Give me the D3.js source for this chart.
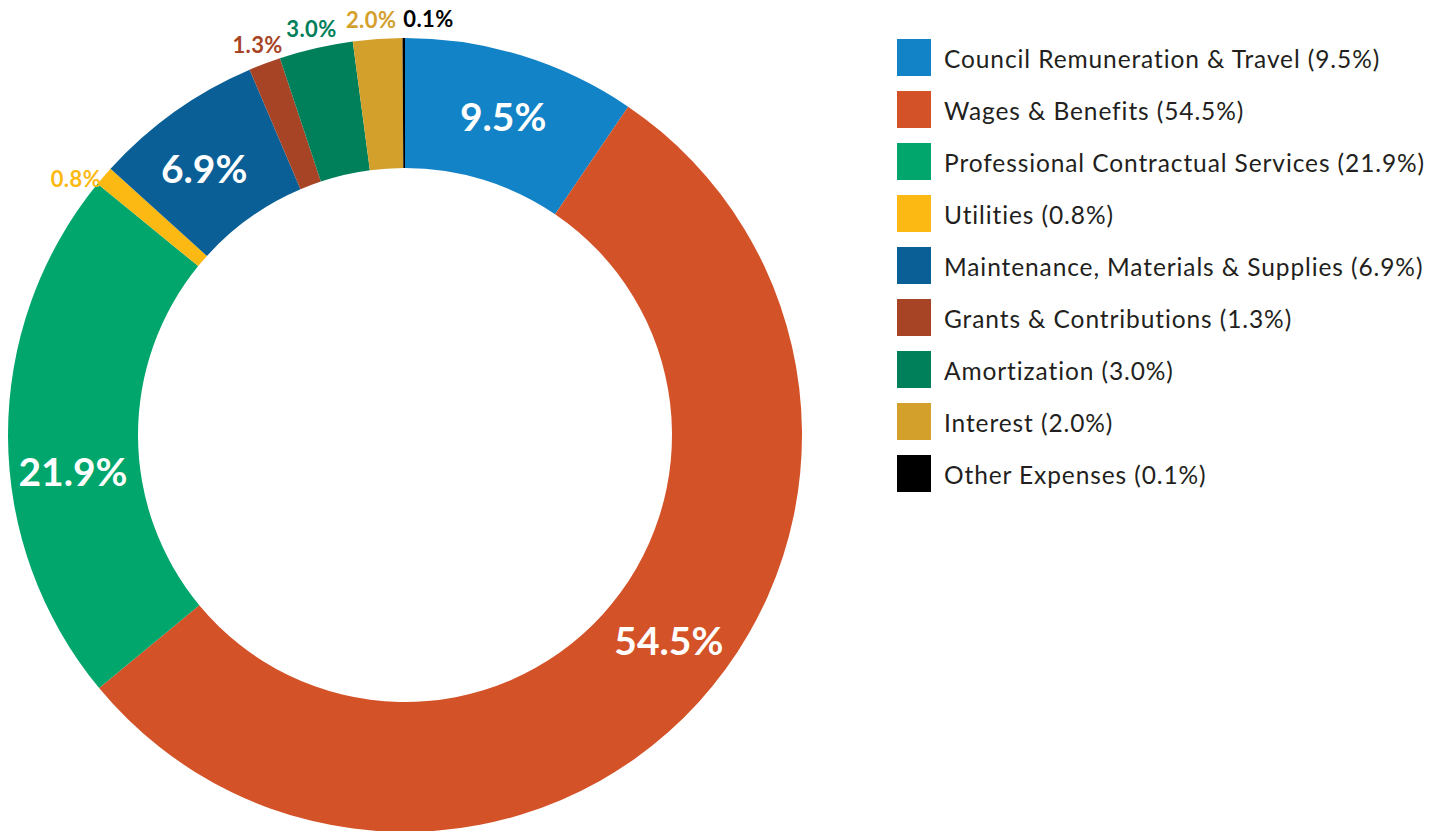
<!DOCTYPE html>
<html>
<head>
<meta charset="utf-8">
<script src="https://cdn.jsdelivr.net/npm/d3@7"></script>
<style>
  html, body { margin: 0; padding: 0; background: #ffffff; }
  svg { display: block; font-family: Lato, "Open Sans", sans-serif; }
</style>
</head>
<body>
<svg id="chart" width="1450" height="831"></svg>
<script>
// Expense categories and their share of the total (%)
const categories = [
  "Council Remuneration & Travel",
  "Wages & Benefits",
  "Professional Contractual Services",
  "Utilities",
  "Maintenance, Materials & Supplies",
  "Grants & Contributions",
  "Amortization",
  "Interest",
  "Other Expenses"
];
const shares = [9.5, 54.5, 21.9, 0.8, 6.9, 1.3, 3.0, 2.0, 0.1];
const colours = ["#1283c6", "#d45227", "#00a66b", "#fdb913", "#0a6096",
                 "#a84426", "#00805a", "#d4a02c", "#000000"];

// Slices large enough to carry their label inside the ring
const insideMin = 5;

const svg = d3.select("#chart");
const cx = 405, cy = 435, outerR = 397, innerR = 267;

const data = categories.map((c, i) => ({ name: c, value: shares[i], colour: colours[i] }));

const pie = d3.pie().sort(null).value(d => d.value);
const arcs = pie(data);
const arc = d3.arc().innerRadius(innerR).outerRadius(outerR);

const g = svg.append("g").attr("transform", `translate(${cx},${cy})`);

g.selectAll("path.slice")
  .data(arcs)
  .join("path")
  .attr("class", "slice")
  .attr("d", arc)
  .attr("fill", d => d.data.colour);

const fmt = v => v.toFixed(1) + "%";

// Small angular nudges (degrees) for label placement
const insideNudge = { 1: -4.5, 2: -6, 4: -1.5 };
const outsideNudge = { 3: -2.8, 7: -0.7, 8: 3.4 };

const toXY = (angDeg, r) => {
  const a = angDeg * Math.PI / 180;
  return [r * Math.sin(a), -r * Math.cos(a)];
};

arcs.forEach((d, i) => {
  const mid = (d.startAngle + d.endAngle) / 2 * 180 / Math.PI;
  if (d.data.value >= insideMin) {
    const [x, y] = toXY(mid + (insideNudge[i] || 0), (innerR + outerR) / 2 + 2);
    g.append("text")
      .attr("x", x).attr("y", y)
      .attr("text-anchor", "middle")
      .attr("dominant-baseline", "central")
      .attr("fill", "#ffffff")
      .attr("font-weight", 700)
      .attr("font-size", 39)
      .text(fmt(d.data.value));
  } else {
    const [x, y] = toXY(mid + (outsideNudge[i] || 0), outerR + 20);
    g.append("text")
      .attr("x", x).attr("y", y)
      .attr("text-anchor", "middle")
      .attr("dominant-baseline", "central")
      .attr("fill", d.data.colour)
      .attr("font-weight", 700)
      .attr("font-size", 22)
      .attr("letter-spacing", 0.4)
      .text(fmt(d.data.value));
  }
});

// Legend
const legend = svg.append("g").attr("transform", "translate(897,39)");
const rowH = 52;
const rows = legend.selectAll("g.row")
  .data(data)
  .join("g")
  .attr("class", "row")
  .attr("transform", (d, i) => `translate(0,${i * rowH})`);

rows.append("rect")
  .attr("width", 34).attr("height", 37)
  .attr("fill", d => d.colour);

rows.append("text")
  .attr("x", 47).attr("y", 19)
  .attr("dominant-baseline", "central")
  .attr("fill", "#231f20")
  .attr("font-size", 24.5)
  .attr("letter-spacing", 0.9)
  .text(d => `${d.name} (${fmt(d.value)})`);
</script>
</body>
</html>
